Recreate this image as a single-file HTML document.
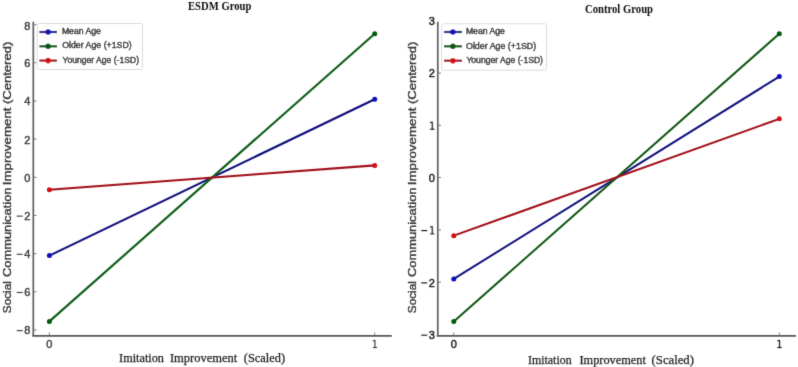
<!DOCTYPE html>
<html><head><meta charset="utf-8"><style>
html,body{margin:0;padding:0;background:#fff;}
body{width:798px;height:367px;overflow:hidden;}
svg{display:block;}
.tk{font-family:"Liberation Sans",sans-serif;font-size:11px;}
.lg{font-family:"Liberation Sans",sans-serif;font-size:9.8px;fill:#333;stroke:#333;stroke-width:0.5px;}
.ti{font-family:"Liberation Serif",serif;font-size:11.8px;font-weight:bold;fill:#111;}
.yl{font-family:"Liberation Sans",sans-serif;font-size:10.6px;fill:#383838;stroke:#383838;stroke-width:0.36px;}
.xl{font-family:"Liberation Serif",serif;font-size:13px;fill:#1e1e1e;stroke:#1e1e1e;stroke-width:0.25px;}
</style></head><body>
<svg width="798" height="367" viewBox="0 0 798 367">
<defs><filter id="bl" x="0" y="0" width="798" height="367" filterUnits="userSpaceOnUse"><feConvolveMatrix order="3" kernelMatrix="0.0113 0.0836 0.0113 0.0836 0.620 0.0836 0.0113 0.0836 0.0113" divisor="1" edgeMode="none"/></filter></defs>
<rect width="798" height="367" fill="#fff"/>
<g filter="url(#bl)">
<line x1="33.3" y1="21.7" x2="33.3" y2="335.8" stroke="#646464" stroke-width="1.75"/>
<line x1="32.3" y1="335.8" x2="391.8" y2="335.8" stroke="#555555" stroke-width="1.8"/>
<line x1="33.3" y1="24.66" x2="36.5" y2="24.66" stroke="#6a6a6a" stroke-width="0.9"/>
<text x="30.4" y="29.96" text-anchor="end" class="tk" fill="#424242" stroke="#424242" stroke-width="0.45">8</text>
<line x1="33.3" y1="62.82" x2="36.5" y2="62.82" stroke="#6a6a6a" stroke-width="0.9"/>
<text x="30.4" y="67.22" text-anchor="end" class="tk" fill="#424242" stroke="#424242" stroke-width="0.45">6</text>
<line x1="33.3" y1="100.98" x2="36.5" y2="100.98" stroke="#6a6a6a" stroke-width="0.9"/>
<text x="30.4" y="105.38" text-anchor="end" class="tk" fill="#424242" stroke="#424242" stroke-width="0.45">4</text>
<line x1="33.3" y1="139.14" x2="36.5" y2="139.14" stroke="#6a6a6a" stroke-width="0.9"/>
<text x="30.4" y="143.54" text-anchor="end" class="tk" fill="#424242" stroke="#424242" stroke-width="0.45">2</text>
<line x1="33.3" y1="177.3" x2="36.5" y2="177.3" stroke="#6a6a6a" stroke-width="0.9"/>
<text x="30.4" y="181.7" text-anchor="end" class="tk" fill="#424242" stroke="#424242" stroke-width="0.45">0</text>
<line x1="33.3" y1="215.46" x2="36.5" y2="215.46" stroke="#6a6a6a" stroke-width="0.9"/>
<text x="30.4" y="219.86" text-anchor="end" class="tk" fill="#424242" stroke="#424242" stroke-width="0.45">2</text>
<rect x="16.7" y="215.56" width="6" height="1.15" fill="#424242"/>
<line x1="33.3" y1="253.62" x2="36.5" y2="253.62" stroke="#6a6a6a" stroke-width="0.9"/>
<text x="30.4" y="258.02" text-anchor="end" class="tk" fill="#424242" stroke="#424242" stroke-width="0.45">4</text>
<rect x="16.7" y="253.72" width="6" height="1.15" fill="#424242"/>
<line x1="33.3" y1="291.78" x2="36.5" y2="291.78" stroke="#6a6a6a" stroke-width="0.9"/>
<text x="30.4" y="296.18" text-anchor="end" class="tk" fill="#424242" stroke="#424242" stroke-width="0.45">6</text>
<rect x="16.7" y="291.88" width="6" height="1.15" fill="#424242"/>
<line x1="33.3" y1="329.94" x2="36.5" y2="329.94" stroke="#6a6a6a" stroke-width="0.9"/>
<text x="30.4" y="334.34" text-anchor="end" class="tk" fill="#424242" stroke="#424242" stroke-width="0.45">8</text>
<rect x="16.7" y="330.04" width="6" height="1.15" fill="#424242"/>
<line x1="49.4" y1="335.8" x2="49.4" y2="332.6" stroke="#6a6a6a" stroke-width="0.9"/>
<text x="49.4" y="348" text-anchor="middle" class="tk" fill="#424242" stroke="#424242" stroke-width="0.45">0</text>
<line x1="374.7" y1="335.8" x2="374.7" y2="332.6" stroke="#6a6a6a" stroke-width="0.9"/>
<path transform="translate(374.9,348) scale(0.84,1) translate(-3.6,0)" d="M1.364,-0.913L3.137,-0.913L3.137,-7.031L1.208,-6.644L1.208,-7.632L3.126,-8.019L4.211,-8.019L4.211,-0.913L5.983,-0.913L5.983,0L1.364,0Z" fill="#424242" stroke="#424242" stroke-width="0.3"/>
<line x1="49.4" y1="255.6" x2="374.7" y2="99.3" stroke="#10107c" stroke-width="2.15"/>
<circle cx="49.4" cy="255.6" r="2.5" fill="#0c0cbc"/>
<circle cx="374.7" cy="99.3" r="2.5" fill="#0c0cbc"/>
<line x1="49.4" y1="321.4" x2="374.7" y2="33.7" stroke="#0c5c18" stroke-width="2.15"/>
<circle cx="49.4" cy="321.4" r="2.5" fill="#065a0c"/>
<circle cx="374.7" cy="33.7" r="2.5" fill="#065a0c"/>
<line x1="49.4" y1="189.8" x2="374.7" y2="165.4" stroke="#a00c16" stroke-width="2.15"/>
<circle cx="49.4" cy="189.8" r="2.5" fill="#d41018"/>
<circle cx="374.7" cy="165.4" r="2.5" fill="#d41018"/>
<rect x="37.2" y="23.5" width="105.3" height="46" rx="2" fill="#ffffff" fill-opacity="0.85" stroke="#dcdcdc" stroke-width="1"/>
<line x1="39.4" y1="32" x2="57" y2="32" stroke="#10107c" stroke-width="2.2"/>
<circle cx="48.1" cy="32" r="2.8" fill="#0c0cbc"/>
<text x="61.9" y="33.9" class="lg" textLength="39" lengthAdjust="spacingAndGlyphs">Mean Age</text>
<line x1="39.4" y1="46.3" x2="57" y2="46.3" stroke="#0a5410" stroke-width="2.2"/>
<circle cx="48.1" cy="46.3" r="2.8" fill="#065a0c"/>
<text x="62.2" y="48.2" class="lg" textLength="69.5" lengthAdjust="spacingAndGlyphs">Older Age (+1SD)</text>
<line x1="39.4" y1="60.6" x2="57" y2="60.6" stroke="#a00c16" stroke-width="2.2"/>
<circle cx="48.1" cy="60.6" r="2.8" fill="#d41018"/>
<text x="62.5" y="62.5" class="lg" textLength="76.5" lengthAdjust="spacingAndGlyphs">Younger Age (-1SD)</text>
<text x="188" y="10" class="ti" textLength="63.4" lengthAdjust="spacingAndGlyphs">ESDM Group</text>
<text transform="translate(11.3,313.2) rotate(-90)" x="0" y="0" class="yl" textLength="32.1" lengthAdjust="spacingAndGlyphs">Social</text>
<text transform="translate(11.3,277) rotate(-90)" x="0" y="0" class="yl" textLength="89.5" lengthAdjust="spacingAndGlyphs">Communication</text>
<text transform="translate(11.3,185.2) rotate(-90)" x="0" y="0" class="yl" textLength="77.7" lengthAdjust="spacingAndGlyphs">Improvement</text>
<text transform="translate(11.3,104.1) rotate(-90)" x="0" y="0" class="yl" textLength="62.4" lengthAdjust="spacingAndGlyphs">(Centered)</text>
<text x="119.1" y="362.4" class="xl" textLength="44.9" lengthAdjust="spacingAndGlyphs">Imitation</text>
<text x="169.9" y="362.4" class="xl" textLength="67.4" lengthAdjust="spacingAndGlyphs">Improvement</text>
<text x="243.8" y="362.4" class="xl" textLength="41.2" lengthAdjust="spacingAndGlyphs">(Scaled)</text>
<line x1="437.8" y1="21.8" x2="437.8" y2="335.8" stroke="#646464" stroke-width="1.75"/>
<line x1="436.8" y1="335.8" x2="796" y2="335.8" stroke="#555555" stroke-width="1.8"/>
<text x="434.9" y="25.1" text-anchor="end" class="tk" fill="#1e1e1e" stroke="#1e1e1e" stroke-width="0.45">3</text>
<line x1="437.8" y1="73" x2="441" y2="73" stroke="#6a6a6a" stroke-width="0.9"/>
<text x="434.9" y="77.4" text-anchor="end" class="tk" fill="#1e1e1e" stroke="#1e1e1e" stroke-width="0.45">2</text>
<line x1="437.8" y1="125.3" x2="441" y2="125.3" stroke="#6a6a6a" stroke-width="0.9"/>
<path transform="translate(432.2,129.7) scale(0.84,1) translate(-3.6,0)" d="M1.364,-0.913L3.137,-0.913L3.137,-7.031L1.208,-6.644L1.208,-7.632L3.126,-8.019L4.211,-8.019L4.211,-0.913L5.983,-0.913L5.983,0L1.364,0Z" fill="#1e1e1e" stroke="#1e1e1e" stroke-width="0.3"/>
<line x1="437.8" y1="177.6" x2="441" y2="177.6" stroke="#6a6a6a" stroke-width="0.9"/>
<text x="434.9" y="182" text-anchor="end" class="tk" fill="#1e1e1e" stroke="#1e1e1e" stroke-width="0.45">0</text>
<line x1="437.8" y1="229.9" x2="441" y2="229.9" stroke="#6a6a6a" stroke-width="0.9"/>
<path transform="translate(432.2,234.3) scale(0.84,1) translate(-3.6,0)" d="M1.364,-0.913L3.137,-0.913L3.137,-7.031L1.208,-6.644L1.208,-7.632L3.126,-8.019L4.211,-8.019L4.211,-0.913L5.983,-0.913L5.983,0L1.364,0Z" fill="#1e1e1e" stroke="#1e1e1e" stroke-width="0.3"/>
<rect x="421.2" y="230" width="6" height="1.15" fill="#1e1e1e"/>
<line x1="437.8" y1="282.2" x2="441" y2="282.2" stroke="#6a6a6a" stroke-width="0.9"/>
<text x="434.9" y="286.6" text-anchor="end" class="tk" fill="#1e1e1e" stroke="#1e1e1e" stroke-width="0.45">2</text>
<rect x="421.2" y="282.3" width="6" height="1.15" fill="#1e1e1e"/>
<text x="434.9" y="338.9" text-anchor="end" class="tk" fill="#1e1e1e" stroke="#1e1e1e" stroke-width="0.45">3</text>
<rect x="421.2" y="334.6" width="6" height="1.15" fill="#1e1e1e"/>
<line x1="453.8" y1="335.8" x2="453.8" y2="332.6" stroke="#6a6a6a" stroke-width="0.9"/>
<text x="453.8" y="348" text-anchor="middle" class="tk" fill="#1e1e1e" stroke="#1e1e1e" stroke-width="0.45">0</text>
<line x1="779.3" y1="335.8" x2="779.3" y2="332.6" stroke="#6a6a6a" stroke-width="0.9"/>
<path transform="translate(779.5,348) scale(0.84,1) translate(-3.6,0)" d="M1.364,-0.913L3.137,-0.913L3.137,-7.031L1.208,-6.644L1.208,-7.632L3.126,-8.019L4.211,-8.019L4.211,-0.913L5.983,-0.913L5.983,0L1.364,0Z" fill="#1e1e1e" stroke="#1e1e1e" stroke-width="0.3"/>
<line x1="453.8" y1="278.9" x2="779.3" y2="76.6" stroke="#10107c" stroke-width="1.95"/>
<circle cx="453.8" cy="278.9" r="2.5" fill="#0c0cbc"/>
<circle cx="779.3" cy="76.6" r="2.5" fill="#0c0cbc"/>
<line x1="453.8" y1="321.5" x2="779.3" y2="33.7" stroke="#0a5410" stroke-width="1.95"/>
<circle cx="453.8" cy="321.5" r="2.5" fill="#065a0c"/>
<circle cx="779.3" cy="33.7" r="2.5" fill="#065a0c"/>
<line x1="453.8" y1="235.7" x2="779.3" y2="118.8" stroke="#a00c16" stroke-width="1.95"/>
<circle cx="453.8" cy="235.7" r="2.5" fill="#d41018"/>
<circle cx="779.3" cy="118.8" r="2.5" fill="#d41018"/>
<rect x="441.6" y="23.8" width="104.9" height="46.4" rx="2" fill="#ffffff" fill-opacity="0.85" stroke="#dcdcdc" stroke-width="1"/>
<line x1="444" y1="32" x2="462" y2="32" stroke="#10107c" stroke-width="2.2"/>
<circle cx="452.9" cy="32" r="2.8" fill="#0c0cbc"/>
<text x="465.9" y="34.3" class="lg" textLength="39" lengthAdjust="spacingAndGlyphs">Mean Age</text>
<line x1="444" y1="46.3" x2="462" y2="46.3" stroke="#0a5410" stroke-width="2.2"/>
<circle cx="452.9" cy="46.3" r="2.8" fill="#065a0c"/>
<text x="466" y="48.6" class="lg" textLength="70.2" lengthAdjust="spacingAndGlyphs">Older Age (+1SD)</text>
<line x1="444" y1="60.7" x2="462" y2="60.7" stroke="#a00c16" stroke-width="2.2"/>
<circle cx="452.9" cy="60.7" r="2.8" fill="#d41018"/>
<text x="466.4" y="62.8" class="lg" textLength="76.6" lengthAdjust="spacingAndGlyphs">Younger Age (-1SD)</text>
<text x="585" y="13.2" class="ti" textLength="68" lengthAdjust="spacingAndGlyphs">Control Group</text>
<text transform="translate(416,313.2) rotate(-90)" x="0" y="0" class="yl" textLength="32.1" lengthAdjust="spacingAndGlyphs">Social</text>
<text transform="translate(416,277) rotate(-90)" x="0" y="0" class="yl" textLength="89.5" lengthAdjust="spacingAndGlyphs">Communication</text>
<text transform="translate(416,185.2) rotate(-90)" x="0" y="0" class="yl" textLength="77.7" lengthAdjust="spacingAndGlyphs">Improvement</text>
<text transform="translate(416,104.1) rotate(-90)" x="0" y="0" class="yl" textLength="62.4" lengthAdjust="spacingAndGlyphs">(Centered)</text>
<text x="528" y="364" class="xl" textLength="43.6" lengthAdjust="spacingAndGlyphs">Imitation</text>
<text x="579.5" y="364" class="xl" textLength="66.4" lengthAdjust="spacingAndGlyphs">Improvement</text>
<text x="651.6" y="364" class="xl" textLength="42.3" lengthAdjust="spacingAndGlyphs">(Scaled)</text>
</g>
</svg>
</body></html>
